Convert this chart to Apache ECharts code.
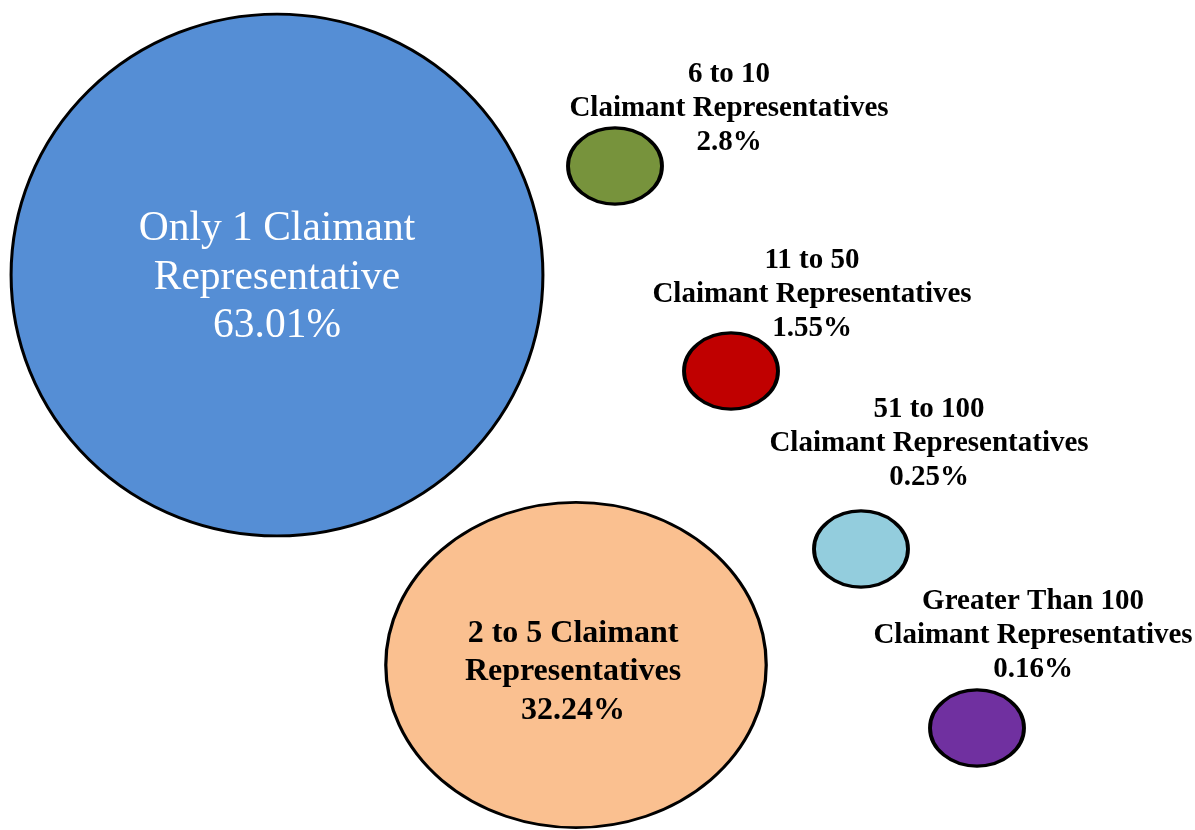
<!DOCTYPE html>
<html>
<head>
<meta charset="utf-8">
<script src="https://cdn.jsdelivr.net/npm/echarts@6/dist/echarts.min.js"></script>
<style>html,body{margin:0;padding:0;background:#fff}#c{width:1195px;height:830px}</style>
</head>
<body>
<div id="c"></div>
<script>
// ---- data ----
var categories = ['Only 1 Claimant\nRepresentative', '2 to 5 Claimant\nRepresentatives', '6 to 10\nClaimant Representatives', '11 to 50\nClaimant Representatives', '51 to 100\nClaimant Representatives', 'Greater Than 100\nClaimant Representatives'];
var shares = [63.01, 32.24, 2.8, 1.55, 0.25, 0.16];

// ---- layout (bubble placement in plot units) ----
var posX = [277, 576, 615, 731, 861, 977];
var posY = [275, 665, 166, 371, 549, 728];
var aspect = [0.981, 0.855, 0.81, 0.81, 0.81, 0.81];
var labelOffset = [[0, 3], [-3, 7], [114, -57], [81, -76], [68, -105], [56, -92]];

// ---- styles ----
var colors = ['#558ED5', '#FAC090', '#77933C', '#C00000', '#93CDDD', '#7030A0'];
var bigLabel = [
  { color: '#fff', fontWeight: 'normal', fontSize: 41.5, lineHeight: 48.5 },
  { color: '#000', fontWeight: 'bold', fontSize: 32, lineHeight: 38.5 }
];
var smallLabel = { color: '#000', fontWeight: 'bold', fontSize: 29, lineHeight: 34 };

function sizeOf(v, i) {
  var w = v >= 10 ? 67 * Math.sqrt(v) : 94;
  return [w, w * aspect[i]];
}

var data = shares.map(function (v, i) {
  var lab = i < 2 ? bigLabel[i] : smallLabel;
  return {
    name: categories[i],
    value: [posX[i], posY[i], v],
    symbolSize: sizeOf(v, i),
    itemStyle: { color: colors[i], borderWidth: i < 2 ? 3 : 3.5 },
    label: {
      show: true,
      position: 'inside',
      offset: labelOffset[i],
      formatter: categories[i] + '\n' + v + '%',
      fontFamily: 'Liberation Serif',
      color: lab.color,
      fontWeight: lab.fontWeight,
      fontSize: lab.fontSize,
      lineHeight: lab.lineHeight,
      align: 'center'
    }
  };
});

var chart = echarts.init(document.getElementById('c'), null, { renderer: 'canvas' });
chart.setOption({
  backgroundColor: '#fff',
  animation: false,
  grid: { left: 0, right: 0, top: 0, bottom: 0 },
  xAxis: { type: 'value', min: 0, max: 1195, show: false },
  yAxis: { type: 'value', min: 0, max: 830, inverse: true, show: false },
  series: [{
    type: 'scatter',
    symbol: 'circle',
    data: data,
    itemStyle: { borderColor: '#000', opacity: 1 },
    emphasis: { disabled: true }
  }]
});
</script>
</body>
</html>
